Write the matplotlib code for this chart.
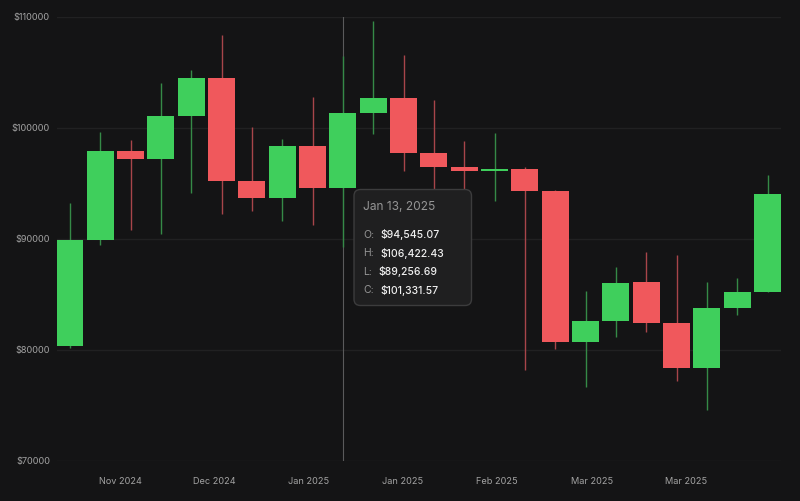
import matplotlib
matplotlib.use('Agg')
import matplotlib.pyplot as plt
from matplotlib.patches import FancyBboxPatch, Rectangle

opens = [80350, 89900, 97900, 97200, 101050, 104450, 95200, 93700, 98350, 94545.07, 101331.57, 102650,
         97750, 96450, 96100, 96300, 94300, 80750, 82600, 86100, 82400, 78400, 83800, 85250]
closes = [89900, 97900, 97200, 101050, 104450, 95200, 93700, 98350, 94550, 101331.57, 102650, 97750,
          96450, 96100, 96250, 94300, 80750, 82600, 86050, 82400, 78400, 83800, 85250, 94050]
highs = [93200, 99600, 98900, 104000, 105200, 108300, 100050, 99000, 102750, 106422.43, 109600, 106500,
         102500, 98800, 99500, 96500, 94400, 85300, 87500, 88850, 88500, 86150, 86500, 95750]
lows = [80200, 89400, 90800, 90450, 94150, 92250, 92500, 91600, 91250, 89256.69, 99450, 96100,
        92000, 92500, 93400, 78200, 80050, 76650, 81150, 81600, 77200, 74550, 83100, 85250]

y_ticks = [70000, 80000, 90000, 100000, 110000]
y_tick_labels = ['$70000', '$80000', '$90000', '$100000', '$110000']
x_ticks = [1.65, 4.75, 7.88, 10.98, 14.08, 17.22, 20.32]
x_tick_labels = ['Nov 2024', 'Dec 2024', 'Jan 2025', 'Jan 2025', 'Feb 2025', 'Mar 2025', 'Mar 2025']

hover = 9
tip_date = 'Jan 13, 2025'
tip_keys = ['O:', 'H:', 'L:', 'C:']
tip_vals = ['$94,545.07', '$106,422.43', '$89,256.69', '$101,331.57']

BG = '#141415'
GREEN = '#3fcf5c'
RED = '#f0585c'
GREEN_WICK = '#358a47'
RED_WICK = '#a8454a'

plt.rcParams['font.family'] = ['Inter', 'DejaVu Sans']

fig = plt.figure(figsize=(8, 5.01), dpi=100, facecolor=BG)
ax = fig.add_axes([57 / 800, 1 - 461 / 501, (781 - 57) / 800, (461 - 16.5) / 501], facecolor=BG)
step = (767.5 - 70) / 23
ax.set_xlim(-13 / step, 23 + 13.5 / step)
ax.set_ylim(70000, 110000)
for s in ax.spines.values():
    s.set_visible(False)

ax.set_yticks(y_ticks)
ax.set_yticklabels(y_tick_labels)
ax.set_xticks(x_ticks)
ax.set_xticklabels(x_tick_labels)
ax.tick_params(axis='y', length=0, pad=5, labelsize=6.6, labelcolor='#a2a2a2')
ax.tick_params(axis='x', length=0, pad=11.5, labelsize=6.6, labelcolor='#a2a2a2')
ax.grid(axis='y', color='#212122', lw=1)
ax.set_axisbelow(True)

ax.axvline(hover, color='#5a5a5b', lw=0.8, zorder=1.5)

for i in range(len(opens)):
    up = closes[i] >= opens[i]
    ax.vlines(i, lows[i], highs[i], color=GREEN_WICK if up else RED_WICK, lw=1, zorder=2)
    ax.add_patch(Rectangle((i - 0.445, min(opens[i], closes[i])), 0.89, abs(closes[i] - opens[i]),
                           facecolor=GREEN if up else RED, edgecolor='none', zorder=3))

# tooltip, placed in pixels
def px(x, y):
    return x / 800, 1 - y / 501

box = FancyBboxPatch(px(354, 305.5), 117.5 / 800, 116 / 501, transform=fig.transFigure,
                     boxstyle='round,pad=0,rounding_size=0.008', mutation_aspect=1.6,
                     facecolor='#1f1f20', edgecolor='#3c3c3d', lw=1, zorder=5)
ax.add_patch(box)
ax.text(*px(363, 206.5), tip_date, transform=fig.transFigure, color='#959595', fontsize=8.6, va='center', zorder=6)
val_x = [380, 380, 378, 380]
for n in range(4):
    y = 234.5 + n * 18.6
    ax.text(*px(363, y), tip_keys[n], transform=fig.transFigure, color='#959595', fontsize=7.5, va='center', zorder=6)
    ax.text(*px(val_x[n], y), tip_vals[n], transform=fig.transFigure, color='#f0f0f0', fontsize=7.5, fontweight='medium',
            va='center', zorder=6)

fig.savefig('out.png', dpi=100, facecolor=BG)
